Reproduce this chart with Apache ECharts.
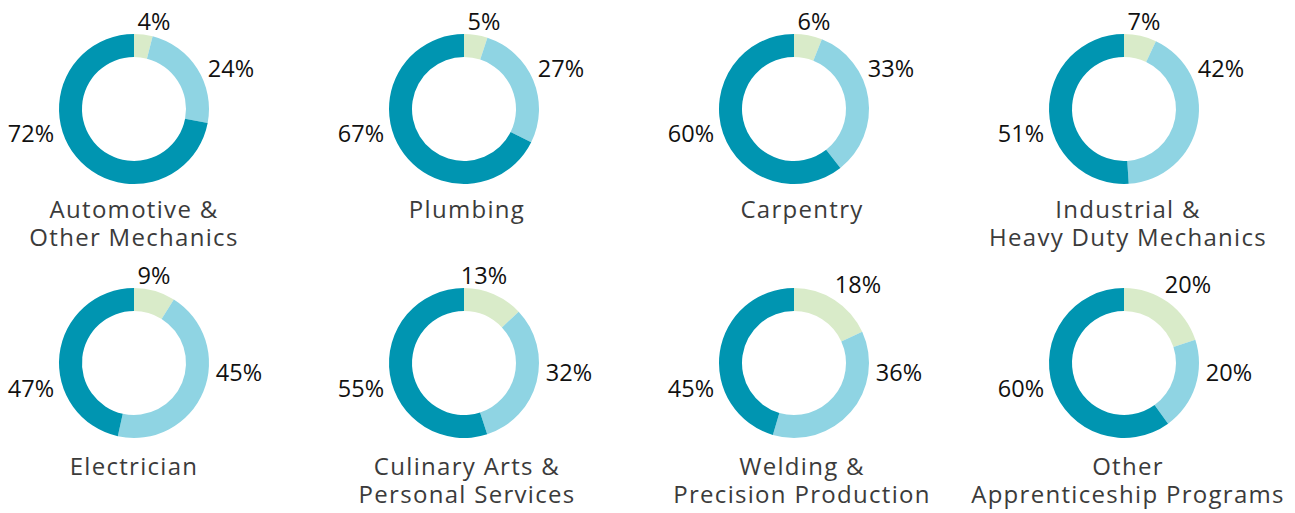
<!DOCTYPE html>
<html>
<head>
<meta charset="utf-8">
<script src="https://cdn.jsdelivr.net/npm/echarts@6/dist/echarts.min.js"></script>
<style>
  html, body { margin: 0; padding: 0; background: #fff; }
  #chart { width: 1295px; height: 513px; }
  #chart svg text[fill="#3b3b3b"] { letter-spacing: 1.3px; }
</style>
</head>
<body>
<div id="chart"></div>
<script>
// ---- data ----
const categories = [
  'Automotive &\nOther Mechanics', 'Plumbing', 'Carpentry', 'Industrial &\nHeavy Duty Mechanics',
  'Electrician', 'Culinary Arts &\nPersonal Services', 'Welding &\nPrecision Production', 'Other\nApprenticeship Programs'
];
const share1 = [4, 5, 6, 7, 9, 13, 18, 20];      // light green slice
const share2 = [24, 27, 33, 42, 45, 32, 36, 20]; // light blue slice
const share3 = [72, 67, 60, 51, 47, 55, 45, 60]; // dark teal slice

// ---- layout / style ----
const colors = ['#d9ebc9', '#8fd4e3', '#0095b1'];
const pieX = [134, 464, 794, 1124];
const pieY = [109, 363];
const titleX = [134, 467, 802, 1128];
const titleTop = [196, 453];
const titleStep = 28;
// label anchor offsets from pie centre, per chart, per slice
const labelOffsets = [
  [[20, -88], [97, -41], [-103, 24]],
  [[20, -88], [97, -41], [-103, 24]],
  [[20, -88], [97, -41], [-103, 24]],
  [[20, -88], [97, -41], [-103, 24]],
  [[20, -88], [105, 9], [-103, 25]],
  [[20, -88], [105, 9], [-103, 25]],
  [[64, -79], [105, 9], [-103, 25]],
  [[64, -79], [105, 9], [-103, 25]]
];

const series = [];
const titles = [];
categories.forEach((cat, k) => {
  const col = k % 4, row = Math.floor(k / 4);
  const cx = pieX[col], cy = pieY[row];
  series.push({
    type: 'pie',
    center: [cx, cy],
    radius: [52, 75],
    startAngle: 90,
    clockwise: true,
    silent: true,
    avoidLabelOverlap: false,
    itemStyle: { borderWidth: 0 },
    label: {
      show: true,
      position: 'outside',
      formatter: '{c}%',
      color: '#111111',
      fontFamily: 'Open Sans',
      fontSize: 23.5
    },
    labelLine: { show: false },
    labelLayout: function (p) {
      const o = labelOffsets[k][p.dataIndex];
      return { x: cx + o[0], y: cy + o[1], align: 'center', verticalAlign: 'middle' };
    },
    data: [
      { value: share1[k], itemStyle: { color: colors[0] } },
      { value: share2[k], itemStyle: { color: colors[1] } },
      { value: share3[k], itemStyle: { color: colors[2] } }
    ]
  });
  cat.split('\n').forEach((line, li) => {
    titles.push({
      text: line,
      left: titleX[col],
      top: titleTop[row] + li * titleStep,
      textAlign: 'center',
      padding: 0,
      textStyle: {
        color: '#3b3b3b',
        fontFamily: 'Open Sans',
        fontSize: 24,
        fontWeight: 'normal',
        lineHeight: 24
      }
    });
  });
});

const chart = echarts.init(document.getElementById('chart'), null, { renderer: 'svg' });
chart.setOption({
  animation: false,
  backgroundColor: '#ffffff',
  title: titles,
  series: series
});
</script>
</body>
</html>
